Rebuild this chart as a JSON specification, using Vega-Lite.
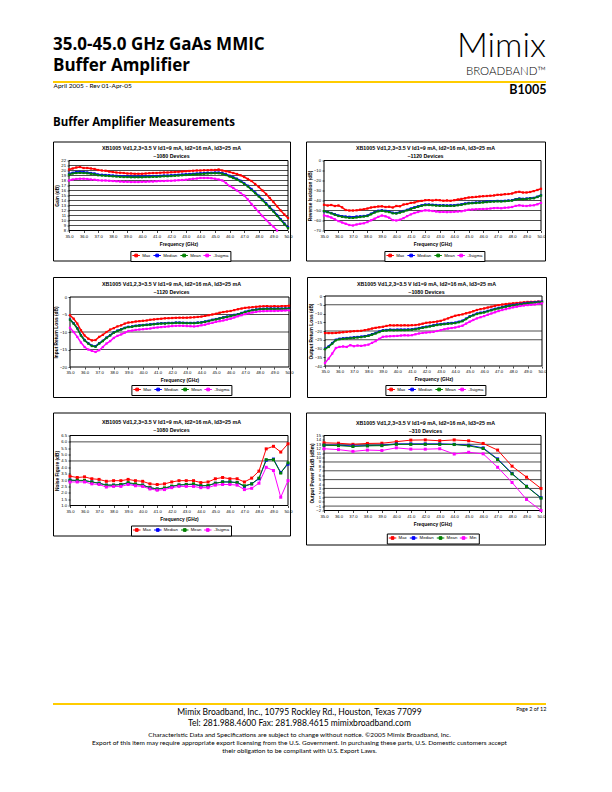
{
"$schema": "https://vega.github.io/schema/vega-lite/v6.json",
"background": "white",
"padding": {"left": 52, "top": 30, "right": 0, "bottom": 0},
"config": {
  "font": "Liberation Sans",
  "view": {"stroke": "black", "strokeWidth": 1},
  "axis": {"domain": false, "grid": false, "tickSize": 2, "tickColor": "black", "tickWidth": 0.7, "labelFontSize": 4.2, "labelFont": "Liberation Sans", "labelColor": "black", "labelPadding": 1.5, "titleFont": "Liberation Sans", "titleFontSize": 4.8, "titleFontWeight": "bold", "titleColor": "black", "labelOverlap": false, "labelFlush": false},
  "axisX": {"titlePadding": 3},
  "axisY": {"titlePadding": 1.2},
  "title": {"font": "Liberation Sans", "fontSize": 5.3, "fontWeight": "bold", "color": "black", "subtitleFont": "Liberation Sans", "subtitleFontSize": 5.3, "subtitleFontWeight": "bold", "subtitleColor": "black", "subtitlePadding": 2.7, "anchor": "middle", "frame": "group"},
  "legend": {"strokeColor": "black", "fillColor": "white", "padding": 1.5, "labelFont": "Liberation Sans", "labelFontSize": 4.3, "labelColor": "black", "labelOffset": 3, "columnPadding": 0, "symbolOffset": 1.25, "symbolStrokeWidth": 1, "labelLimit": 100, "gridAlign": "none"}
},
"resolve": {"scale": {"color": "independent"}, "legend": {"color": "independent"}},
"vconcat": [
 {"resolve": {"scale": {"color": "independent"}, "legend": {"color": "independent"}},
  "vconcat": [
   {"hconcat": [
     {"width": 400, "height": 2,
      "view": {"fill": "#FFCC00", "stroke": null},
      "title": {"text": ["35.0-45.0 GHz GaAs MMIC", "Buffer Amplifier"], "anchor": "start", "font": "Open Sans", "fontSize": 17, "fontWeight": "bold", "lineHeight": 21, "offset": 4, "color": "black"},
      "data": {"values": [{"v": 0}]},
      "mark": {"type": "point", "opacity": 0},
      "encoding": {"x": {"field": "v", "type": "quantitative", "axis": {"title": "April 2005 - Rev 01-Apr-05", "titleAnchor": "start", "titleFont": "Lato", "titleFontSize": 6.5, "titleFontWeight": "normal", "titlePadding": -1, "labels": false, "ticks": false, "domain": false, "grid": false}}}
     },
     {"width": 93, "height": 2,
      "view": {"fill": "#FFCC00", "stroke": null},
      "title": {"text": "Mimix", "subtitle": "BROADBAND™", "anchor": "end", "font": "Lato", "fontSize": 34, "fontWeight": 300, "subtitleFont": "Lato", "subtitleFontSize": 11.5, "subtitleFontWeight": 300, "subtitlePadding": 1.5, "offset": 2, "color": "black", "subtitleColor": "black"},
      "data": {"values": [{"v": 0}]},
      "mark": {"type": "point", "opacity": 0},
      "encoding": {"x": {"field": "v", "type": "quantitative", "axis": {"title": "B1005", "titleAnchor": "end", "titleFont": "Lato", "titleFontSize": 12.5, "titleFontWeight": "bold", "titlePadding": 0, "labels": false, "ticks": false, "domain": false, "grid": false}}}
     }
   ], "spacing": 0},
   {"title": {"text": "Buffer Amplifier Measurements", "anchor": "start", "font": "Open Sans", "fontSize": 11.5, "fontWeight": "bold", "offset": 13, "color": "black"},
    "resolve": {"scale": {"color": "independent"}, "legend": {"color": "independent"}},
    "vconcat": [
     {"resolve": {"scale": {"color": "independent"}, "legend": {"color": "independent"}},
      "hconcat": [
       {"width": 237, "height": 119,
        "title": {"text": "XB1005 Vd1,2,3=3.5 V Id1=9 mA, Id2=16 mA, Id3=25 mA", "subtitle": "~1080 Devices", "offset": -17.7},
        "layer": [
          {"data": {"values": [{"g":9},{"g":10},{"g":11},{"g":12},{"g":13},{"g":14},{"g":15},{"g":16},{"g":17},{"g":18},{"g":19},{"g":20},{"g":21}]},
           "mark": {"type": "rule", "color": "black", "strokeWidth": 0.7},
           "encoding": {"y": {"field": "g", "type": "quantitative", "scale": {"domain": [8,22], "range": [89,19], "nice": false, "zero": false}},
                        "x": {"datum": 35, "type": "quantitative", "scale": {"domain": [35,50], "range": [16,235], "nice": false, "zero": false}},
                        "x2": {"datum": 50}}},
          {"data": {"values": [{"b":1}]},
           "mark": {"type": "rect", "fill": "transparent", "stroke": "black", "strokeWidth": 1},
           "encoding": {"x": {"datum": 35, "type": "quantitative", "scale": {"domain": [35,50], "range": [16,235], "nice": false, "zero": false}}, "x2": {"datum": 50},
                        "y": {"datum": 8, "type": "quantitative", "scale": {"domain": [8,22], "range": [89,19], "nice": false, "zero": false}}, "y2": {"datum": 22}}},
          {"data": {"values": [
            {"f":35,"Max":20.2,"Median":19.35,"Mean":19.2,"-3sigma":18.0},
            {"f":35.25,"Max":20.4,"Median":19.55,"Mean":19.4,"-3sigma":18.2},
            {"f":35.5,"Max":20.6,"Median":19.7,"Mean":19.5,"-3sigma":18.3},
            {"f":35.75,"Max":20.7,"Median":19.75,"Mean":19.55,"-3sigma":18.35},
            {"f":36,"Max":20.5,"Median":19.7,"Mean":19.5,"-3sigma":18.35},
            {"f":36.25,"Max":20.5,"Median":19.6,"Mean":19.45,"-3sigma":18.3},
            {"f":36.5,"Max":20.4,"Median":19.5,"Mean":19.35,"-3sigma":18.2},
            {"f":36.75,"Max":20.3,"Median":19.4,"Mean":19.25,"-3sigma":18.15},
            {"f":37,"Max":20.1,"Median":19.2,"Mean":19.05,"-3sigma":18.05},
            {"f":37.25,"Max":20.0,"Median":19.15,"Mean":19.0,"-3sigma":18.0},
            {"f":37.5,"Max":19.95,"Median":19.1,"Mean":18.95,"-3sigma":18.0},
            {"f":37.75,"Max":19.8,"Median":19.05,"Mean":18.9,"-3sigma":17.95},
            {"f":38,"Max":19.7,"Median":19.0,"Mean":18.85,"-3sigma":17.9},
            {"f":38.25,"Max":19.6,"Median":18.95,"Mean":18.8,"-3sigma":17.85},
            {"f":38.5,"Max":19.55,"Median":18.9,"Mean":18.75,"-3sigma":17.8},
            {"f":38.75,"Max":19.5,"Median":18.85,"Mean":18.7,"-3sigma":17.75},
            {"f":39,"Max":19.4,"Median":18.85,"Mean":18.7,"-3sigma":17.75},
            {"f":39.25,"Max":19.4,"Median":18.8,"Mean":18.65,"-3sigma":17.7},
            {"f":39.5,"Max":19.35,"Median":18.8,"Mean":18.65,"-3sigma":17.7},
            {"f":39.75,"Max":19.35,"Median":18.8,"Mean":18.65,"-3sigma":17.7},
            {"f":40,"Max":19.35,"Median":18.8,"Mean":18.65,"-3sigma":17.75},
            {"f":40.25,"Max":19.4,"Median":18.85,"Mean":18.7,"-3sigma":17.75},
            {"f":40.5,"Max":19.45,"Median":18.85,"Mean":18.7,"-3sigma":17.8},
            {"f":40.75,"Max":19.5,"Median":18.9,"Mean":18.75,"-3sigma":17.8},
            {"f":41,"Max":19.5,"Median":18.9,"Mean":18.75,"-3sigma":17.85},
            {"f":41.25,"Max":19.55,"Median":18.95,"Mean":18.8,"-3sigma":17.9},
            {"f":41.5,"Max":19.6,"Median":19.0,"Mean":18.85,"-3sigma":17.9},
            {"f":41.75,"Max":19.6,"Median":19.0,"Mean":18.85,"-3sigma":17.95},
            {"f":42,"Max":19.65,"Median":19.05,"Mean":18.9,"-3sigma":17.95},
            {"f":42.25,"Max":19.7,"Median":19.1,"Mean":18.95,"-3sigma":18.0},
            {"f":42.5,"Max":19.75,"Median":19.15,"Mean":19.0,"-3sigma":18.05},
            {"f":42.75,"Max":19.8,"Median":19.2,"Mean":19.05,"-3sigma":18.1},
            {"f":43,"Max":19.85,"Median":19.25,"Mean":19.1,"-3sigma":18.15},
            {"f":43.25,"Max":19.9,"Median":19.3,"Mean":19.15,"-3sigma":18.25},
            {"f":43.5,"Max":19.95,"Median":19.35,"Mean":19.2,"-3sigma":18.35},
            {"f":43.75,"Max":20.0,"Median":19.4,"Mean":19.25,"-3sigma":18.4},
            {"f":44,"Max":20.0,"Median":19.45,"Mean":19.3,"-3sigma":18.5},
            {"f":44.25,"Max":20.05,"Median":19.5,"Mean":19.35,"-3sigma":18.5},
            {"f":44.5,"Max":20.05,"Median":19.55,"Mean":19.4,"-3sigma":18.5},
            {"f":44.75,"Max":20.1,"Median":19.55,"Mean":19.45,"-3sigma":18.45},
            {"f":45,"Max":20.1,"Median":19.6,"Mean":19.45,"-3sigma":18.35},
            {"f":45.25,"Max":20.2,"Median":19.6,"Mean":19.45,"-3sigma":18.2},
            {"f":45.5,"Max":20.0,"Median":19.5,"Mean":19.35,"-3sigma":18.0},
            {"f":45.75,"Max":19.85,"Median":19.25,"Mean":19.1,"-3sigma":17.5},
            {"f":46,"Max":19.7,"Median":18.95,"Mean":18.8,"-3sigma":16.9},
            {"f":46.25,"Max":19.5,"Median":18.65,"Mean":18.5,"-3sigma":16.5},
            {"f":46.5,"Max":19.3,"Median":18.35,"Mean":18.2,"-3sigma":16.0},
            {"f":46.75,"Max":19.05,"Median":17.95,"Mean":17.8,"-3sigma":15.5},
            {"f":47,"Max":18.7,"Median":17.45,"Mean":17.3,"-3sigma":15.0},
            {"f":47.25,"Max":18.3,"Median":16.95,"Mean":16.8,"-3sigma":14.2},
            {"f":47.5,"Max":17.9,"Median":16.3,"Mean":16.1,"-3sigma":13.3},
            {"f":47.75,"Max":17.3,"Median":15.6,"Mean":15.45,"-3sigma":12.5},
            {"f":48,"Max":16.7,"Median":14.95,"Mean":14.8,"-3sigma":11.7},
            {"f":48.25,"Max":16.0,"Median":14.2,"Mean":14.05,"-3sigma":10.9},
            {"f":48.5,"Max":15.3,"Median":13.45,"Mean":13.3,"-3sigma":10.1},
            {"f":48.75,"Max":14.5,"Median":12.7,"Mean":12.55,"-3sigma":9.4},
            {"f":49,"Max":13.7,"Median":11.95,"Mean":11.8,"-3sigma":8.8},
            {"f":49.25,"Max":12.85,"Median":11.1,"Mean":10.95,"-3sigma":8.0},
            {"f":49.5,"Max":12.0,"Median":10.25,"Mean":10.1,"-3sigma":null},
            {"f":49.75,"Max":11.2,"Median":9.4,"Mean":9.3,"-3sigma":null},
            {"f":50,"Max":10.5,"Median":8.65,"Mean":8.5,"-3sigma":null}
           ]},
           "transform": [{"fold": ["Max","Median","Mean","-3sigma"], "as": ["s","v"]}],
           "mark": {"type": "line", "strokeWidth": 1.5, "point": {"filled": true, "shape": "square", "size": 5}},
           "encoding": {
             "x": {"field": "f", "type": "quantitative", "scale": {"domain": [35,50], "range": [16,235], "nice": false, "zero": false}, "axis": {"values": [35,36,37,38,39,40,41,42,43,44,45,46,47,48,49,50], "tickCount": 100, "format": ".1f", "title": "Frequency (GHz)", "offset": -30, "labelOverlap": false}},
             "y": {"field": "v", "type": "quantitative", "scale": {"domain": [8,22], "range": [89,19], "nice": false, "zero": false}, "axis": {"values": [8,9,10,11,12,13,14,15,16,17,18,19,20,21,22], "tickCount": 100, "format": "d", "title": "Gain (dB)", "offset": -16, "labelOverlap": false}},
             "color": {"field": "s", "type": "nominal", "scale": {"domain": ["Max","Median","Mean","-3sigma"], "range": ["#FF0000","#0000FF","#008000","#FF00FF"]},
                       "legend": {"title": null, "orient": "none", "legendX": 77.4, "legendY": 109.5, "direction": "horizontal", "symbolType": "M-1.5,0H1.5M-0.54,-0.54H0.54V0.54H-0.54Z", "symbolSize": 25}}}}
        ]},
       {"width": 239, "height": 119,
        "title": {"text": "XB1005 Vd1,2,3=3.5 V Id1=9 mA, Id2=16 mA, Id3=25 mA", "subtitle": "~1120 Devices", "offset": -17.7},
        "layer": [
          {"data": {"values": [{"g":-40},{"g":-50},{"g":-60}]},
           "mark": {"type": "rule", "color": "black", "strokeWidth": 0.7},
           "encoding": {"y": {"field": "g", "type": "quantitative", "scale": {"domain": [-70,0], "range": [89,19], "nice": false, "zero": false}},
                        "x": {"datum": 35, "type": "quantitative", "scale": {"domain": [35,50], "range": [18,235], "nice": false, "zero": false}},
                        "x2": {"datum": 50}}},
          {"data": {"values": [{"b":1}]},
           "mark": {"type": "rect", "fill": "transparent", "stroke": "black", "strokeWidth": 1},
           "encoding": {"x": {"datum": 35, "type": "quantitative", "scale": {"domain": [35,50], "range": [18,235], "nice": false, "zero": false}}, "x2": {"datum": 50},
                        "y": {"datum": -70, "type": "quantitative", "scale": {"domain": [-70,0], "range": [89,19], "nice": false, "zero": false}}, "y2": {"datum": 0}}},
          {"data": {"values": [
            {"f":35,"Max":-44.3,"Median":-50.8,"Mean":-50.6,"-3sigma":-55.0},
            {"f":35.25,"Max":-45.0,"Median":-51.5,"Mean":-51.6,"-3sigma":-55.8},
            {"f":35.5,"Max":-44.5,"Median":-52.5,"Mean":-52.8,"-3sigma":-57.0},
            {"f":35.75,"Max":-45.5,"Median":-53.8,"Mean":-54.2,"-3sigma":-58.8},
            {"f":36,"Max":-45.0,"Median":-55.0,"Mean":-55.5,"-3sigma":-60.6},
            {"f":36.25,"Max":-46.8,"Median":-55.6,"Mean":-56.2,"-3sigma":-62.0},
            {"f":36.5,"Max":-49.5,"Median":-56.0,"Mean":-56.8,"-3sigma":-63.3},
            {"f":36.75,"Max":-50.0,"Median":-56.3,"Mean":-57.3,"-3sigma":-64.5},
            {"f":37,"Max":-50.0,"Median":-56.6,"Mean":-57.4,"-3sigma":-65.0},
            {"f":37.25,"Max":-49.8,"Median":-56.0,"Mean":-56.9,"-3sigma":-64.0},
            {"f":37.5,"Max":-49.2,"Median":-55.8,"Mean":-56.5,"-3sigma":-63.3},
            {"f":37.75,"Max":-48.8,"Median":-55.5,"Mean":-56.0,"-3sigma":-62.8},
            {"f":38,"Max":-48.0,"Median":-55.0,"Mean":-55.5,"-3sigma":-61.6},
            {"f":38.25,"Max":-47.0,"Median":-53.2,"Mean":-53.8,"-3sigma":-59.8},
            {"f":38.5,"Max":-46.5,"Median":-51.5,"Mean":-52.0,"-3sigma":-58.2},
            {"f":38.75,"Max":-46.0,"Median":-50.2,"Mean":-50.8,"-3sigma":-56.4},
            {"f":39,"Max":-45.8,"Median":-49.8,"Mean":-50.3,"-3sigma":-55.0},
            {"f":39.25,"Max":-46.5,"Median":-50.3,"Mean":-50.9,"-3sigma":-55.8},
            {"f":39.5,"Max":-46.2,"Median":-51.0,"Mean":-51.6,"-3sigma":-57.2},
            {"f":39.75,"Max":-47.0,"Median":-52.2,"Mean":-52.8,"-3sigma":-59.6},
            {"f":40,"Max":-45.5,"Median":-52.5,"Mean":-53.0,"-3sigma":-60.0},
            {"f":40.25,"Max":-45.8,"Median":-51.5,"Mean":-52.1,"-3sigma":-59.2},
            {"f":40.5,"Max":-44.0,"Median":-50.5,"Mean":-51.0,"-3sigma":-57.6},
            {"f":40.75,"Max":-43.5,"Median":-49.3,"Mean":-49.8,"-3sigma":-55.6},
            {"f":41,"Max":-42.4,"Median":-48.0,"Mean":-48.6,"-3sigma":-53.9},
            {"f":41.25,"Max":-42.0,"Median":-46.8,"Mean":-47.4,"-3sigma":-52.5},
            {"f":41.5,"Max":-40.7,"Median":-45.8,"Mean":-46.3,"-3sigma":-51.5},
            {"f":41.75,"Max":-40.4,"Median":-44.8,"Mean":-45.3,"-3sigma":-50.5},
            {"f":42,"Max":-39.7,"Median":-44.0,"Mean":-44.6,"-3sigma":-49.8},
            {"f":42.25,"Max":-39.6,"Median":-44.0,"Mean":-44.5,"-3sigma":-50.0},
            {"f":42.5,"Max":-40.0,"Median":-44.2,"Mean":-44.8,"-3sigma":-50.5},
            {"f":42.75,"Max":-39.5,"Median":-44.5,"Mean":-45.1,"-3sigma":-51.0},
            {"f":43,"Max":-39.7,"Median":-44.8,"Mean":-45.3,"-3sigma":-51.5},
            {"f":43.25,"Max":-40.2,"Median":-44.7,"Mean":-45.2,"-3sigma":-51.4},
            {"f":43.5,"Max":-39.9,"Median":-44.9,"Mean":-45.4,"-3sigma":-51.6},
            {"f":43.75,"Max":-40.3,"Median":-44.8,"Mean":-45.4,"-3sigma":-51.5},
            {"f":44,"Max":-39.7,"Median":-44.8,"Mean":-45.3,"-3sigma":-51.3},
            {"f":44.25,"Max":-39.0,"Median":-44.3,"Mean":-44.8,"-3sigma":-51.0},
            {"f":44.5,"Max":-38.4,"Median":-43.8,"Mean":-44.3,"-3sigma":-50.8},
            {"f":44.75,"Max":-37.8,"Median":-43.0,"Mean":-43.6,"-3sigma":-50.0},
            {"f":45,"Max":-37.0,"Median":-42.4,"Mean":-42.9,"-3sigma":-49.2},
            {"f":45.25,"Max":-36.7,"Median":-42.3,"Mean":-42.7,"-3sigma":-49.0},
            {"f":45.5,"Max":-36.4,"Median":-42.0,"Mean":-42.5,"-3sigma":-48.8},
            {"f":45.75,"Max":-36.0,"Median":-41.7,"Mean":-42.2,"-3sigma":-48.6},
            {"f":46,"Max":-35.7,"Median":-41.4,"Mean":-41.9,"-3sigma":-48.5},
            {"f":46.25,"Max":-35.5,"Median":-41.0,"Mean":-41.6,"-3sigma":-48.3},
            {"f":46.5,"Max":-35.2,"Median":-40.7,"Mean":-41.2,"-3sigma":-48.0},
            {"f":46.75,"Max":-34.9,"Median":-40.6,"Mean":-41.0,"-3sigma":-47.6},
            {"f":47,"Max":-34.3,"Median":-40.4,"Mean":-40.8,"-3sigma":-47.5},
            {"f":47.25,"Max":-34.2,"Median":-40.5,"Mean":-40.9,"-3sigma":-47.8},
            {"f":47.5,"Max":-33.7,"Median":-40.3,"Mean":-40.7,"-3sigma":-47.2},
            {"f":47.75,"Max":-33.5,"Median":-40.0,"Mean":-40.4,"-3sigma":-47.0},
            {"f":48,"Max":-33.0,"Median":-39.7,"Mean":-40.1,"-3sigma":-46.5},
            {"f":48.25,"Max":-31.8,"Median":-38.6,"Mean":-39.0,"-3sigma":-45.4},
            {"f":48.5,"Max":-31.3,"Median":-38.0,"Mean":-38.5,"-3sigma":-44.8},
            {"f":48.75,"Max":-32.0,"Median":-38.3,"Mean":-38.7,"-3sigma":-45.3},
            {"f":49,"Max":-32.0,"Median":-38.0,"Mean":-38.4,"-3sigma":-45.5},
            {"f":49.25,"Max":-31.5,"Median":-37.6,"Mean":-38.0,"-3sigma":-45.0},
            {"f":49.5,"Max":-30.6,"Median":-37.4,"Mean":-37.8,"-3sigma":-44.8},
            {"f":49.75,"Max":-29.5,"Median":-36.2,"Mean":-36.5,"-3sigma":-43.8},
            {"f":50,"Max":-28.3,"Median":-34.7,"Mean":-35.0,"-3sigma":-42.4}
           ]},
           "transform": [{"fold": ["Max","Median","Mean","-3sigma"], "as": ["s","v"]}],
           "mark": {"type": "line", "strokeWidth": 1.5, "point": {"filled": true, "shape": "square", "size": 5}},
           "encoding": {
             "x": {"field": "f", "type": "quantitative", "scale": {"domain": [35,50], "range": [18,235], "nice": false, "zero": false}, "axis": {"values": [35,36,37,38,39,40,41,42,43,44,45,46,47,48,49,50], "tickCount": 100, "format": ".1f", "title": "Frequency (GHz)", "offset": -30, "labelOverlap": false}},
             "y": {"field": "v", "type": "quantitative", "scale": {"domain": [-70,0], "range": [89,19], "nice": false, "zero": false}, "axis": {"values": [-70,-60,-50,-40,-30,-20,-10,0], "tickCount": 100, "format": "d", "title": "Reverse Isolation (dB)", "offset": -18, "labelOverlap": false}},
             "color": {"field": "s", "type": "nominal", "scale": {"domain": ["Max","Median","Mean","-3sigma"], "range": ["#FF0000","#0000FF","#008000","#FF00FF"]},
                       "legend": {"title": null, "orient": "none", "legendX": 78.4, "legendY": 109.5, "direction": "horizontal", "symbolType": "M-1.5,0H1.5M-0.54,-0.54H0.54V0.54H-0.54Z", "symbolSize": 25}}}}
        ]}
     ], "spacing": 12},
     {"resolve": {"scale": {"color": "independent"}, "legend": {"color": "independent"}},
      "hconcat": [
       {"width": 237, "height": 120,
        "title": {"text": "XB1005 Vd1,2,3=3.5 V Id1=9 mA, Id2=16 mA, Id3=25 mA", "subtitle": "~1120 Devices", "offset": -18},
        "layer": [
          {"data": {"values": [{"g":-5},{"g":-10},{"g":-15}]},
           "mark": {"type": "rule", "color": "black", "strokeWidth": 0.7},
           "encoding": {"y": {"field": "g", "type": "quantitative", "scale": {"domain": [-20,0], "range": [90,20], "nice": false, "zero": false}},
                        "x": {"datum": 35, "type": "quantitative", "scale": {"domain": [35,50], "range": [17,236], "nice": false, "zero": false}},
                        "x2": {"datum": 50}}},
          {"data": {"values": [{"b":1}]},
           "mark": {"type": "rect", "fill": "transparent", "stroke": "black", "strokeWidth": 1},
           "encoding": {"x": {"datum": 35, "type": "quantitative", "scale": {"domain": [35,50], "range": [17,236], "nice": false, "zero": false}}, "x2": {"datum": 50},
                        "y": {"datum": -20, "type": "quantitative", "scale": {"domain": [-20,0], "range": [90,20], "nice": false, "zero": false}}, "y2": {"datum": 0}}},
          {"data": {"values": [
            {"f":35,"Max":-5.2,"Median":-6.4,"Mean":-6.5,"-3sigma":-8.8},
            {"f":35.25,"Max":-6.2,"Median":-7.5,"Mean":-7.6,"-3sigma":-10.0},
            {"f":35.5,"Max":-7.6,"Median":-8.9,"Mean":-9.0,"-3sigma":-11.4},
            {"f":35.75,"Max":-9.5,"Median":-10.9,"Mean":-11.0,"-3sigma":-13.0},
            {"f":36,"Max":-11.0,"Median":-12.3,"Mean":-12.4,"-3sigma":-14.3},
            {"f":36.25,"Max":-11.9,"Median":-13.2,"Mean":-13.3,"-3sigma":-15.0},
            {"f":36.5,"Max":-12.4,"Median":-13.9,"Mean":-14.0,"-3sigma":-15.4},
            {"f":36.75,"Max":-12.3,"Median":-14.1,"Mean":-14.2,"-3sigma":-15.7},
            {"f":37,"Max":-11.4,"Median":-13.2,"Mean":-13.3,"-3sigma":-15.2},
            {"f":37.25,"Max":-10.8,"Median":-12.5,"Mean":-12.6,"-3sigma":-14.3},
            {"f":37.5,"Max":-10.0,"Median":-11.6,"Mean":-11.7,"-3sigma":-13.3},
            {"f":37.75,"Max":-9.3,"Median":-10.9,"Mean":-11.0,"-3sigma":-12.6},
            {"f":38,"Max":-8.9,"Median":-10.1,"Mean":-10.2,"-3sigma":-11.7},
            {"f":38.25,"Max":-8.4,"Median":-9.6,"Mean":-9.7,"-3sigma":-11.1},
            {"f":38.5,"Max":-8.1,"Median":-9.2,"Mean":-9.3,"-3sigma":-10.7},
            {"f":38.75,"Max":-7.6,"Median":-8.8,"Mean":-8.9,"-3sigma":-10.2},
            {"f":39,"Max":-7.3,"Median":-8.5,"Mean":-8.6,"-3sigma":-9.7},
            {"f":39.25,"Max":-7.2,"Median":-8.4,"Mean":-8.5,"-3sigma":-9.6},
            {"f":39.5,"Max":-7.0,"Median":-8.2,"Mean":-8.3,"-3sigma":-9.4},
            {"f":39.75,"Max":-6.9,"Median":-8.1,"Mean":-8.2,"-3sigma":-9.3},
            {"f":40,"Max":-6.8,"Median":-8.0,"Mean":-8.1,"-3sigma":-9.2},
            {"f":40.25,"Max":-6.7,"Median":-7.9,"Mean":-8.0,"-3sigma":-9.1},
            {"f":40.5,"Max":-6.5,"Median":-7.8,"Mean":-7.9,"-3sigma":-9.0},
            {"f":40.75,"Max":-6.4,"Median":-7.7,"Mean":-7.8,"-3sigma":-8.8},
            {"f":41,"Max":-6.3,"Median":-7.6,"Mean":-7.7,"-3sigma":-8.7},
            {"f":41.25,"Max":-6.2,"Median":-7.5,"Mean":-7.6,"-3sigma":-8.6},
            {"f":41.5,"Max":-6.1,"Median":-7.5,"Mean":-7.6,"-3sigma":-8.5},
            {"f":41.75,"Max":-6.05,"Median":-7.4,"Mean":-7.5,"-3sigma":-8.4},
            {"f":42,"Max":-6.0,"Median":-7.4,"Mean":-7.5,"-3sigma":-8.3},
            {"f":42.25,"Max":-5.95,"Median":-7.3,"Mean":-7.4,"-3sigma":-8.25},
            {"f":42.5,"Max":-5.9,"Median":-7.3,"Mean":-7.4,"-3sigma":-8.2},
            {"f":42.75,"Max":-5.9,"Median":-7.35,"Mean":-7.45,"-3sigma":-8.25},
            {"f":43,"Max":-5.9,"Median":-7.4,"Mean":-7.5,"-3sigma":-8.3},
            {"f":43.25,"Max":-5.85,"Median":-7.4,"Mean":-7.5,"-3sigma":-8.35},
            {"f":43.5,"Max":-5.8,"Median":-7.4,"Mean":-7.5,"-3sigma":-8.4},
            {"f":43.75,"Max":-5.7,"Median":-7.3,"Mean":-7.4,"-3sigma":-8.3},
            {"f":44,"Max":-5.6,"Median":-7.2,"Mean":-7.3,"-3sigma":-8.1},
            {"f":44.25,"Max":-5.4,"Median":-7.0,"Mean":-7.1,"-3sigma":-7.9},
            {"f":44.5,"Max":-5.2,"Median":-6.8,"Mean":-6.9,"-3sigma":-7.6},
            {"f":44.75,"Max":-5.0,"Median":-6.5,"Mean":-6.6,"-3sigma":-7.4},
            {"f":45,"Max":-4.8,"Median":-6.3,"Mean":-6.4,"-3sigma":-7.1},
            {"f":45.25,"Max":-4.5,"Median":-6.05,"Mean":-6.15,"-3sigma":-6.9},
            {"f":45.5,"Max":-4.3,"Median":-5.8,"Mean":-5.9,"-3sigma":-6.7},
            {"f":45.75,"Max":-4.15,"Median":-5.6,"Mean":-5.7,"-3sigma":-6.45},
            {"f":46,"Max":-4.0,"Median":-5.4,"Mean":-5.5,"-3sigma":-6.2},
            {"f":46.25,"Max":-3.75,"Median":-5.1,"Mean":-5.2,"-3sigma":-5.85},
            {"f":46.5,"Max":-3.5,"Median":-4.9,"Mean":-5.0,"-3sigma":-5.5},
            {"f":46.75,"Max":-3.3,"Median":-4.55,"Mean":-4.65,"-3sigma":-5.2},
            {"f":47,"Max":-3.1,"Median":-4.2,"Mean":-4.3,"-3sigma":-4.9},
            {"f":47.25,"Max":-3.0,"Median":-3.95,"Mean":-4.05,"-3sigma":-4.65},
            {"f":47.5,"Max":-2.9,"Median":-3.7,"Mean":-3.8,"-3sigma":-4.4},
            {"f":47.75,"Max":-2.8,"Median":-3.55,"Mean":-3.65,"-3sigma":-4.25},
            {"f":48,"Max":-2.7,"Median":-3.4,"Mean":-3.5,"-3sigma":-4.1},
            {"f":48.25,"Max":-2.65,"Median":-3.35,"Mean":-3.45,"-3sigma":-4.05},
            {"f":48.5,"Max":-2.6,"Median":-3.3,"Mean":-3.4,"-3sigma":-4.0},
            {"f":48.75,"Max":-2.7,"Median":-3.3,"Mean":-3.4,"-3sigma":-4.0},
            {"f":49,"Max":-2.6,"Median":-3.3,"Mean":-3.4,"-3sigma":-4.0},
            {"f":49.25,"Max":-2.7,"Median":-3.3,"Mean":-3.4,"-3sigma":-3.95},
            {"f":49.5,"Max":-2.6,"Median":-3.3,"Mean":-3.4,"-3sigma":-3.9},
            {"f":49.75,"Max":-2.6,"Median":-3.25,"Mean":-3.35,"-3sigma":-3.85},
            {"f":50,"Max":-2.5,"Median":-3.2,"Mean":-3.3,"-3sigma":-3.8}
           ]},
           "transform": [{"fold": ["Max","Median","Mean","-3sigma"], "as": ["s","v"]}],
           "mark": {"type": "line", "strokeWidth": 1.5, "point": {"filled": true, "shape": "square", "size": 5}},
           "encoding": {
             "x": {"field": "f", "type": "quantitative", "scale": {"domain": [35,50], "range": [17,236], "nice": false, "zero": false}, "axis": {"values": [35,36,37,38,39,40,41,42,43,44,45,46,47,48,49,50], "tickCount": 100, "format": ".1f", "title": "Frequency (GHz)", "offset": -30, "labelOverlap": false}},
             "y": {"field": "v", "type": "quantitative", "scale": {"domain": [-20,0], "range": [90,20], "nice": false, "zero": false}, "axis": {"values": [-20,-15,-10,-5,0], "tickCount": 100, "format": "d", "title": "Input Return Loss (dB)", "offset": -17, "labelOverlap": false}},
             "color": {"field": "s", "type": "nominal", "scale": {"domain": ["Max","Median","Mean","-3sigma"], "range": ["#FF0000","#0000FF","#008000","#FF00FF"]},
                       "legend": {"title": null, "orient": "none", "legendX": 78.4, "legendY": 108, "direction": "horizontal", "symbolType": "M-1.5,0H1.5M-0.54,-0.54H0.54V0.54H-0.54Z", "symbolSize": 25}}}}
        ]},
       {"width": 239, "height": 120,
        "title": {"text": "XB1005 Vd1,2,3=3.5 V Id1=9 mA, Id2=16 mA, Id3=25 mA", "subtitle": "~1080 Devices", "offset": -18},
        "layer": [
          {"data": {"values": [{"g":-5},{"g":-20},{"g":-25}]},
           "mark": {"type": "rule", "color": "black", "strokeWidth": 0.7},
           "encoding": {"y": {"field": "g", "type": "quantitative", "scale": {"domain": [-40,0], "range": [89,19], "nice": false, "zero": false}},
                        "x": {"datum": 35, "type": "quantitative", "scale": {"domain": [35,50], "range": [18,235], "nice": false, "zero": false}},
                        "x2": {"datum": 50}}},
          {"data": {"values": [{"b":1}]},
           "mark": {"type": "rect", "fill": "transparent", "stroke": "black", "strokeWidth": 1},
           "encoding": {"x": {"datum": 35, "type": "quantitative", "scale": {"domain": [35,50], "range": [18,235], "nice": false, "zero": false}}, "x2": {"datum": 50},
                        "y": {"datum": -40, "type": "quantitative", "scale": {"domain": [-40,0], "range": [89,19], "nice": false, "zero": false}}, "y2": {"datum": 0}}},
          {"data": {"values": [
            {"f":35,"Max":-21.2,"Median":-30.1,"Mean":-30.4,"-3sigma":-38.3},
            {"f":35.25,"Max":-21.2,"Median":-28.8,"Mean":-29.1,"-3sigma":-35.8},
            {"f":35.5,"Max":-21.2,"Median":-26.9,"Mean":-27.2,"-3sigma":-32.9},
            {"f":35.75,"Max":-21.1,"Median":-25.0,"Mean":-25.3,"-3sigma":-29.7},
            {"f":36,"Max":-20.9,"Median":-24.4,"Mean":-24.7,"-3sigma":-29.1},
            {"f":36.25,"Max":-20.7,"Median":-24.2,"Mean":-24.5,"-3sigma":-28.8},
            {"f":36.5,"Max":-20.5,"Median":-24.0,"Mean":-24.3,"-3sigma":-29.1},
            {"f":36.75,"Max":-20.3,"Median":-23.8,"Mean":-24.1,"-3sigma":-28.1},
            {"f":37,"Max":-20.1,"Median":-23.6,"Mean":-23.9,"-3sigma":-28.7},
            {"f":37.25,"Max":-20.0,"Median":-23.4,"Mean":-23.7,"-3sigma":-28.3},
            {"f":37.5,"Max":-19.9,"Median":-23.2,"Mean":-23.5,"-3sigma":-28.5},
            {"f":37.75,"Max":-19.5,"Median":-22.9,"Mean":-23.2,"-3sigma":-28.2},
            {"f":38,"Max":-19.1,"Median":-22.5,"Mean":-22.8,"-3sigma":-27.8},
            {"f":38.25,"Max":-18.6,"Median":-21.8,"Mean":-22.1,"-3sigma":-26.8},
            {"f":38.5,"Max":-18.2,"Median":-21.1,"Mean":-21.4,"-3sigma":-25.8},
            {"f":38.75,"Max":-17.9,"Median":-20.3,"Mean":-20.6,"-3sigma":-24.5},
            {"f":39,"Max":-17.6,"Median":-19.6,"Mean":-19.9,"-3sigma":-23.3},
            {"f":39.25,"Max":-17.1,"Median":-19.4,"Mean":-19.7,"-3sigma":-23.1},
            {"f":39.5,"Max":-16.7,"Median":-19.2,"Mean":-19.5,"-3sigma":-23.0},
            {"f":39.75,"Max":-16.8,"Median":-19.3,"Mean":-19.6,"-3sigma":-22.9},
            {"f":40,"Max":-16.7,"Median":-19.2,"Mean":-19.5,"-3sigma":-22.8},
            {"f":40.25,"Max":-16.8,"Median":-19.2,"Mean":-19.5,"-3sigma":-22.6},
            {"f":40.5,"Max":-16.7,"Median":-19.2,"Mean":-19.5,"-3sigma":-22.4},
            {"f":40.75,"Max":-16.8,"Median":-19.1,"Mean":-19.4,"-3sigma":-22.5},
            {"f":41,"Max":-16.7,"Median":-19.0,"Mean":-19.3,"-3sigma":-22.4},
            {"f":41.25,"Max":-16.6,"Median":-18.7,"Mean":-19.0,"-3sigma":-21.9},
            {"f":41.5,"Max":-16.3,"Median":-18.3,"Mean":-18.6,"-3sigma":-21.4},
            {"f":41.75,"Max":-15.8,"Median":-17.9,"Mean":-18.2,"-3sigma":-21.1},
            {"f":42,"Max":-15.3,"Median":-17.5,"Mean":-17.8,"-3sigma":-20.9},
            {"f":42.25,"Max":-15.1,"Median":-17.1,"Mean":-17.4,"-3sigma":-20.7},
            {"f":42.5,"Max":-14.9,"Median":-16.7,"Mean":-17.0,"-3sigma":-20.5},
            {"f":42.75,"Max":-14.6,"Median":-16.3,"Mean":-16.6,"-3sigma":-20.0},
            {"f":43,"Max":-14.2,"Median":-16.0,"Mean":-16.3,"-3sigma":-19.5},
            {"f":43.25,"Max":-13.5,"Median":-15.8,"Mean":-16.1,"-3sigma":-19.0},
            {"f":43.5,"Max":-12.8,"Median":-15.6,"Mean":-15.9,"-3sigma":-18.6},
            {"f":43.75,"Max":-12.0,"Median":-15.4,"Mean":-15.7,"-3sigma":-18.3},
            {"f":44,"Max":-11.3,"Median":-15.2,"Mean":-15.5,"-3sigma":-18.0},
            {"f":44.25,"Max":-10.9,"Median":-14.7,"Mean":-15.0,"-3sigma":-17.5},
            {"f":44.5,"Max":-10.5,"Median":-14.1,"Mean":-14.4,"-3sigma":-17.0},
            {"f":44.75,"Max":-9.9,"Median":-12.9,"Mean":-13.2,"-3sigma":-15.8},
            {"f":45,"Max":-9.4,"Median":-11.6,"Mean":-11.9,"-3sigma":-14.7},
            {"f":45.25,"Max":-8.7,"Median":-10.8,"Mean":-11.1,"-3sigma":-13.7},
            {"f":45.5,"Max":-8.0,"Median":-10.0,"Mean":-10.3,"-3sigma":-12.8},
            {"f":45.75,"Max":-7.5,"Median":-9.5,"Mean":-9.8,"-3sigma":-12.1},
            {"f":46,"Max":-7.1,"Median":-9.1,"Mean":-9.4,"-3sigma":-11.5},
            {"f":46.25,"Max":-6.6,"Median":-8.5,"Mean":-8.8,"-3sigma":-10.7},
            {"f":46.5,"Max":-6.1,"Median":-7.9,"Mean":-8.2,"-3sigma":-10.0},
            {"f":46.75,"Max":-5.6,"Median":-7.3,"Mean":-7.6,"-3sigma":-9.3},
            {"f":47,"Max":-5.2,"Median":-6.8,"Mean":-7.1,"-3sigma":-8.6},
            {"f":47.25,"Max":-4.9,"Median":-6.3,"Mean":-6.6,"-3sigma":-8.0},
            {"f":47.5,"Max":-4.6,"Median":-5.8,"Mean":-6.1,"-3sigma":-7.5},
            {"f":47.75,"Max":-4.4,"Median":-5.4,"Mean":-5.7,"-3sigma":-7.0},
            {"f":48,"Max":-4.2,"Median":-5.1,"Mean":-5.4,"-3sigma":-6.5},
            {"f":48.25,"Max":-4.0,"Median":-4.8,"Mean":-5.1,"-3sigma":-6.1},
            {"f":48.5,"Max":-3.8,"Median":-4.5,"Mean":-4.8,"-3sigma":-5.7},
            {"f":48.75,"Max":-3.6,"Median":-4.2,"Mean":-4.5,"-3sigma":-5.4},
            {"f":49,"Max":-3.4,"Median":-3.9,"Mean":-4.2,"-3sigma":-5.2},
            {"f":49.25,"Max":-3.35,"Median":-3.7,"Mean":-4.0,"-3sigma":-5.0},
            {"f":49.5,"Max":-3.3,"Median":-3.5,"Mean":-3.8,"-3sigma":-4.8},
            {"f":49.75,"Max":-3.2,"Median":-3.3,"Mean":-3.6,"-3sigma":-4.5},
            {"f":50,"Max":-3.1,"Median":-3.1,"Mean":-3.4,"-3sigma":-4.2}
           ]},
           "transform": [{"fold": ["Max","Median","Mean","-3sigma"], "as": ["s","v"]}],
           "mark": {"type": "line", "strokeWidth": 1.5, "point": {"filled": true, "shape": "square", "size": 5}},
           "encoding": {
             "x": {"field": "f", "type": "quantitative", "scale": {"domain": [35,50], "range": [18,235], "nice": false, "zero": false}, "axis": {"values": [35,36,37,38,39,40,41,42,43,44,45,46,47,48,49,50], "tickCount": 100, "format": ".1f", "title": "Frequency (GHz)", "offset": -31, "labelOverlap": false}},
             "y": {"field": "v", "type": "quantitative", "scale": {"domain": [-40,0], "range": [89,19], "nice": false, "zero": false}, "axis": {"values": [-40,-35,-30,-25,-20,-15,-10,-5,0], "tickCount": 100, "format": "d", "title": "Output Return Loss (dB)", "offset": -18, "labelOverlap": false}},
             "color": {"field": "s", "type": "nominal", "scale": {"domain": ["Max","Median","Mean","-3sigma"], "range": ["#FF0000","#0000FF","#008000","#FF00FF"]},
                       "legend": {"title": null, "orient": "none", "legendX": 78.4, "legendY": 108, "direction": "horizontal", "symbolType": "M-1.5,0H1.5M-0.54,-0.54H0.54V0.54H-0.54Z", "symbolSize": 25}}}}
        ]}
     ], "spacing": 12},
     {"resolve": {"scale": {"color": "independent"}, "legend": {"color": "independent"}},
      "hconcat": [
       {"width": 237, "height": 123,
        "title": {"text": "XB1005 Vd1,2,3=3.5 V Id1=9 mA, Id2=16 mA, Id3=25 mA", "subtitle": "~1080 Devices", "offset": -20.3},
        "layer": [
          {"data": {"values": [{"g":6.0},{"g":4.5}]},
           "mark": {"type": "rule", "color": "black", "strokeWidth": 0.7},
           "encoding": {"y": {"field": "g", "type": "quantitative", "scale": {"domain": [1,6.5], "range": [93,23], "nice": false, "zero": false}},
                        "x": {"datum": 35, "type": "quantitative", "scale": {"domain": [35,50], "range": [17,235], "nice": false, "zero": false}},
                        "x2": {"datum": 50}}},
          {"data": {"values": [{"b":1}]},
           "mark": {"type": "rect", "fill": "transparent", "stroke": "black", "strokeWidth": 1},
           "encoding": {"x": {"datum": 35, "type": "quantitative", "scale": {"domain": [35,50], "range": [17,235], "nice": false, "zero": false}}, "x2": {"datum": 50},
                        "y": {"datum": 1, "type": "quantitative", "scale": {"domain": [1,6.5], "range": [93,23], "nice": false, "zero": false}}, "y2": {"datum": 6.5}}},
          {"data": {"values": [
            {"f":35,"Max":3.3,"Median":3.0,"Mean":2.98,"-3sigma":2.85},
            {"f":35.5,"Max":3.2,"Median":2.95,"Mean":2.98,"-3sigma":2.85},
            {"f":36,"Max":3.25,"Median":2.95,"Mean":2.97,"-3sigma":2.85},
            {"f":36.5,"Max":3.1,"Median":2.85,"Mean":2.85,"-3sigma":2.7},
            {"f":37,"Max":3.05,"Median":2.75,"Mean":2.75,"-3sigma":2.65},
            {"f":37.5,"Max":2.9,"Median":2.6,"Mean":2.6,"-3sigma":2.45},
            {"f":38,"Max":2.95,"Median":2.6,"Mean":2.6,"-3sigma":2.5},
            {"f":38.5,"Max":2.95,"Median":2.65,"Mean":2.65,"-3sigma":2.5},
            {"f":39,"Max":3.05,"Median":2.75,"Mean":2.8,"-3sigma":2.65},
            {"f":39.5,"Max":2.95,"Median":2.65,"Mean":2.7,"-3sigma":2.55},
            {"f":40,"Max":2.9,"Median":2.6,"Mean":2.6,"-3sigma":2.5},
            {"f":40.5,"Max":2.7,"Median":2.4,"Mean":2.4,"-3sigma":2.3},
            {"f":41,"Max":2.65,"Median":2.3,"Mean":2.3,"-3sigma":2.2},
            {"f":41.5,"Max":2.7,"Median":2.35,"Mean":2.38,"-3sigma":2.25},
            {"f":42,"Max":2.85,"Median":2.5,"Mean":2.52,"-3sigma":2.4},
            {"f":42.5,"Max":2.95,"Median":2.6,"Mean":2.62,"-3sigma":2.5},
            {"f":43,"Max":2.95,"Median":2.65,"Mean":2.65,"-3sigma":2.5},
            {"f":43.5,"Max":2.95,"Median":2.65,"Mean":2.7,"-3sigma":2.5},
            {"f":44,"Max":2.8,"Median":2.55,"Mean":2.55,"-3sigma":2.4},
            {"f":44.5,"Max":2.85,"Median":2.55,"Mean":2.58,"-3sigma":2.4},
            {"f":45,"Max":3.1,"Median":2.75,"Mean":2.75,"-3sigma":2.6},
            {"f":45.5,"Max":3.2,"Median":2.85,"Mean":2.85,"-3sigma":2.65},
            {"f":46,"Max":3.1,"Median":2.85,"Mean":2.85,"-3sigma":2.65},
            {"f":46.5,"Max":3.1,"Median":2.8,"Mean":2.8,"-3sigma":2.6},
            {"f":47,"Max":2.85,"Median":2.5,"Mean":2.55,"-3sigma":2.25},
            {"f":47.5,"Max":3.15,"Median":2.7,"Mean":2.7,"-3sigma":2.35},
            {"f":48,"Max":3.7,"Median":3.1,"Mean":3.15,"-3sigma":2.75},
            {"f":48.5,"Max":5.45,"Median":4.55,"Mean":4.6,"-3sigma":4.0},
            {"f":49,"Max":5.65,"Median":4.65,"Mean":4.6,"-3sigma":3.75},
            {"f":49.5,"Max":5.2,"Median":3.6,"Mean":3.55,"-3sigma":1.65},
            {"f":50,"Max":5.85,"Median":4.25,"Mean":4.35,"-3sigma":2.95}
           ]},
           "transform": [{"fold": ["Max","Median","Mean","-3sigma"], "as": ["s","v"]}],
           "mark": {"type": "line", "strokeWidth": 1, "point": {"filled": true, "shape": "square", "size": 9}},
           "encoding": {
             "x": {"field": "f", "type": "quantitative", "scale": {"domain": [35,50], "range": [17,235], "nice": false, "zero": false}, "axis": {"values": [35,36,37,38,39,40,41,42,43,44,45,46,47,48,49,50], "tickCount": 100, "format": ".1f", "title": "Frequency (GHz)", "offset": -30, "labelOverlap": false}},
             "y": {"field": "v", "type": "quantitative", "scale": {"domain": [1,6.5], "range": [93,23], "nice": false, "zero": false}, "axis": {"values": [1,1.5,2,2.5,3,3.5,4,4.5,5,5.5,6,6.5], "tickCount": 100, "format": ".1f", "title": "Noise Figure (dB)", "offset": -17, "labelOverlap": false}},
             "color": {"field": "s", "type": "nominal", "scale": {"domain": ["Max","Median","Mean","-3sigma"], "range": ["#FF0000","#0000FF","#008000","#FF00FF"]},
                       "legend": {"title": null, "orient": "none", "legendX": 78, "legendY": 113, "direction": "horizontal", "symbolType": "M-1.5,0H1.5M-0.54,-0.54H0.54V0.54H-0.54Z", "symbolSize": 25}}}}
        ]},
       {"width": 239, "height": 132,
        "title": {"text": "XB1005 Vd1,2,3=3.5 V Id1=9 mA, Id2=16 mA, Id3=25 mA", "subtitle": "~310 Devices", "offset": -21.3},
        "layer": [
          {"data": {"values": [{"g":13},{"g":11},{"g":9},{"g":7},{"g":5},{"g":3},{"g":1},{"g":-1}]},
           "mark": {"type": "rule", "color": "black", "strokeWidth": 0.7},
           "encoding": {"y": {"field": "g", "type": "quantitative", "scale": {"domain": [-2,15], "range": [98,23], "nice": false, "zero": false}},
                        "x": {"datum": 35, "type": "quantitative", "scale": {"domain": [35,50], "range": [18,235], "nice": false, "zero": false}},
                        "x2": {"datum": 50}}},
          {"data": {"values": [{"b":1}]},
           "mark": {"type": "rect", "fill": "transparent", "stroke": "black", "strokeWidth": 1},
           "encoding": {"x": {"datum": 35, "type": "quantitative", "scale": {"domain": [35,50], "range": [18,235], "nice": false, "zero": false}}, "x2": {"datum": 50},
                        "y": {"datum": -2, "type": "quantitative", "scale": {"domain": [-2,15], "range": [98,23], "nice": false, "zero": false}}, "y2": {"datum": 15}}},
          {"data": {"values": [
            {"f":35,"Max":13.35,"Median":12.8,"Mean":12.8,"Min":12.0},
            {"f":36,"Max":13.25,"Median":12.8,"Mean":12.7,"Min":11.8},
            {"f":37,"Max":13.0,"Median":12.65,"Mean":12.5,"Min":11.4},
            {"f":38,"Max":13.2,"Median":12.7,"Mean":12.65,"Min":11.7},
            {"f":39,"Max":13.25,"Median":12.8,"Mean":12.7,"Min":11.6},
            {"f":40,"Max":13.6,"Median":13.1,"Mean":13.0,"Min":12.2},
            {"f":41,"Max":13.95,"Median":13.1,"Mean":13.0,"Min":11.9},
            {"f":42,"Max":14.0,"Median":13.1,"Mean":13.0,"Min":11.9},
            {"f":43,"Max":13.8,"Median":13.1,"Mean":13.0,"Min":12.0},
            {"f":44,"Max":14.0,"Median":13.0,"Mean":12.95,"Min":10.8},
            {"f":45,"Max":13.8,"Median":12.8,"Mean":12.65,"Min":11.2},
            {"f":46,"Max":13.2,"Median":12.2,"Mean":12.05,"Min":10.85},
            {"f":47,"Max":11.7,"Median":9.7,"Mean":9.55,"Min":7.8},
            {"f":48,"Max":8.05,"Median":6.4,"Mean":6.3,"Min":4.35},
            {"f":49,"Max":5.55,"Median":3.5,"Mean":3.45,"Min":0.5},
            {"f":50,"Max":3.0,"Median":0.9,"Mean":0.8,"Min":-2.0}
           ]},
           "transform": [{"fold": ["Max","Median","Mean","Min"], "as": ["s","v"]}],
           "mark": {"type": "line", "strokeWidth": 1, "point": {"filled": true, "shape": "square", "size": 9}},
           "encoding": {
             "x": {"field": "f", "type": "quantitative", "scale": {"domain": [35,50], "range": [18,235], "nice": false, "zero": false}, "axis": {"values": [35,36,37,38,39,40,41,42,43,44,45,46,47,48,49,50], "tickCount": 100, "format": ".1f", "title": "Frequency (GHz)", "offset": -34, "labelOverlap": false}},
             "y": {"field": "v", "type": "quantitative", "scale": {"domain": [-2,15], "range": [98,23], "nice": false, "zero": false}, "axis": {"values": [-2,-1,0,1,2,3,4,5,6,7,8,9,10,11,12,13,14,15], "tickCount": 100, "format": "d", "title": "Output Power P1dB (dBm)", "offset": -18, "labelOverlap": false}},
             "color": {"field": "s", "type": "nominal", "scale": {"domain": ["Max","Median","Mean","Min"], "range": ["#FF0000","#0000FF","#008000","#FF00FF"]},
                       "legend": {"title": null, "orient": "none", "legendX": 80.8, "legendY": 121, "direction": "horizontal", "symbolType": "M-1.5,0H1.5M-0.54,-0.54H0.54V0.54H-0.54Z", "symbolSize": 25}}}}
        ]}
     ], "spacing": 12}
    ], "spacing": 13.5}
 ], "spacing": 20.5},
 {"width": 493, "height": 2,
  "view": {"fill": "#FFCC00", "stroke": null},
  "title": {"text": ["Mimix Broadband, Inc., 10795 Rockley Rd., Houston, Texas 77099", "Tel: 281.988.4600  Fax: 281.988.4615  mimixbroadband.com"], "subtitle": ["Characteristic Data and Specifications are subject to change without notice. ©2005 Mimix Broadband, Inc.", "Export of this item may require appropriate export licensing from the U.S. Government. In purchasing these parts, U.S. Domestic customers accept", "their obligation to be compliant with U.S. Export Laws."], "orient": "bottom", "anchor": "middle", "font": "Lato", "fontSize": 8.5, "fontWeight": "normal", "lineHeight": 11, "subtitleFont": "Lato", "subtitleFontSize": 6.5, "subtitleFontWeight": "normal", "subtitleLineHeight": 8, "subtitlePadding": 5, "offset": -4, "color": "black", "subtitleColor": "black"},
  "data": {"values": [{"v": 0}]},
  "mark": {"type": "point", "opacity": 0},
  "encoding": {"x": {"field": "v", "type": "quantitative", "axis": {"title": "Page 2 of 12", "titleAnchor": "end", "titleFont": "Lato", "titleFontSize": 5.5, "titleFontWeight": "normal", "titlePadding": 1, "labels": false, "ticks": false, "domain": false, "grid": false}}}
 }
],
"spacing": 156
}
